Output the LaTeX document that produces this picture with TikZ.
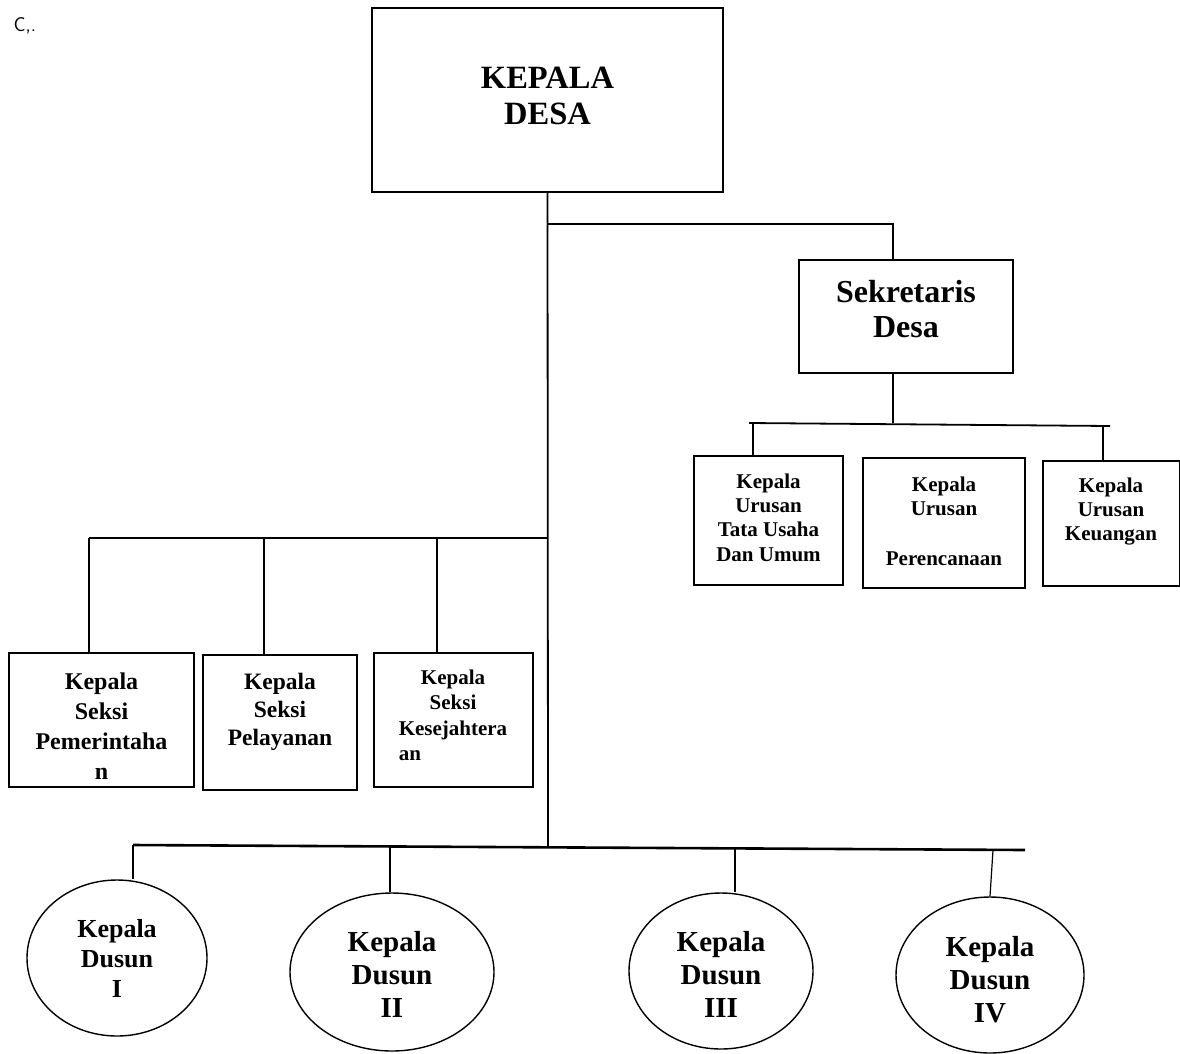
\documentclass[tikz,border=0pt]{standalone}
\usepackage{fontspec}
\setmainfont{Liberation Serif}
\usetikzlibrary{shapes.geometric}
\newcommand\myfs[2]{\fontsize{#1}{#2}\selectfont\bfseries}
\begin{document}
\begin{tikzpicture}[x=1pt,y=-1pt,
  box/.style={draw,line width=2pt,rectangle,inner sep=0pt,align=center},
  oval/.style={draw,line width=1.4pt,ellipse,inner sep=0pt,align=center},
  conn/.style={line width=1.8pt},
  thinconn/.style={line width=1.2pt},
  busline/.style={line width=2.6pt}]
\useasboundingbox (0,0) rectangle (1180,1053);

\node[anchor=west,font=\sffamily\fontsize{20}{20}\selectfont] (mark) at (10,26) {C,.};

% boxes
\node[box,minimum width=351,minimum height=184,text depth=8pt,font=\myfs{32.5}{36}] (desa) at (547.5,100) {KEPALA\\DESA};
\node[box,minimum width=214,minimum height=113,text depth=16pt,font=\myfs{32}{35}] (sek) at (906,316.5) {Sekretaris\\Desa};
\node[box,minimum width=149,minimum height=129,text depth=6pt,font=\myfs{21}{24.3}] (tu) at (768.5,520.5) {Kepala\\Urusan\\Tata Usaha\\Dan Umum};
\node[box,minimum width=162,minimum height=130,text depth=4pt,font=\myfs{21}{24.7}] (ren) at (944,523) {Kepala\\Urusan\\~\\Perencanaan};
\node[box,minimum width=137,minimum height=125,text depth=28pt,font=\myfs{21}{24}] (keu) at (1111,523.5) {Kepala\\Urusan\\Keuangan};
\node[box,minimum width=185,minimum height=134,font=\myfs{24}{30}] (pem) at (101.5,720) {\rule{0pt}{28pt}Kepala\\Seksi\\Pemerintaha\\n};
\node[box,minimum width=154,minimum height=135,text depth=27pt,font=\myfs{23.5}{28}] (pel) at (280,722.5) {Kepala\\Seksi\\Pelayanan};
\node[box,minimum width=159,minimum height=134,text depth=10pt,font=\myfs{21}{25.5}] (kes) at (453,720) {Kepala\\Seksi\\Kesejahtera\\\rlap{an}\phantom{Kesejahtera}};

% ellipses
\node[oval,minimum width=180,minimum height=156,font=\myfs{26}{30}] (d1) at (117,958) {Kepala\\Dusun\\I};
\node[oval,minimum width=204,minimum height=158,font=\myfs{29}{33}] (d2) at (392,972) {\rule{0pt}{25.5pt}Kepala\\Dusun\\II};
\node[oval,minimum width=184,minimum height=156,font=\myfs{29}{33}] (d3) at (721,971) {\rule{0pt}{27pt}Kepala\\Dusun\\III};
\node[oval,minimum width=188,minimum height=156,font=\myfs{29}{33}] (d4) at (990,975) {\rule{0pt}{29pt}Kepala\\Dusun\\IV};

% junction coordinates
\coordinate (jS) at (548,224);
\coordinate (jSr) at (893,224);
\coordinate (jU) at (893,423);
\coordinate (uL) at (749,423);
\coordinate (uR) at (1110,426);
\coordinate (u1) at (753,423);
\coordinate (u3) at (1103,425);
\coordinate (jL) at (548,538);
\coordinate (lL) at (89,538);
\coordinate (l2) at (264,538);
\coordinate (l3) at (437,538);
\coordinate (jB) at (548,846);
\coordinate (bL) at (133,845);
\coordinate (bR) at (1025,850);
\coordinate (b2) at (390,846.5);
\coordinate (b3) at (735,848);
\coordinate (b4) at (993,850);

% connectors
\draw[conn] (desa.south) -- (jB);
\draw[conn] (jS) -- (jSr) -- (jSr |- sek.north);
\draw[conn] (jSr |- sek.south) -- (jU);
\draw[conn] (uL) -- (uR);
\draw[conn] (u1) -- (u1 |- tu.north);
\draw[conn] (u3) -- (u3 |- keu.north);
\draw[conn] (lL) -- (jL);
\draw[conn] (lL) -- (lL |- pem.north);
\draw[conn] (l2) -- (l2 |- pel.north);
\draw[conn] (l3) -- (l3 |- kes.north);
\draw[busline] (bL) -- (bR);
\draw[thinconn] (bL) -- (bL |- d1.north);
\draw[thinconn] (b2) -- (b2 |- d2.north);
\draw[thinconn] (b3) -- (b3 |- d3.north);
\draw[thinconn] (b4) -- (d4.north);
\end{tikzpicture}
\end{document}
